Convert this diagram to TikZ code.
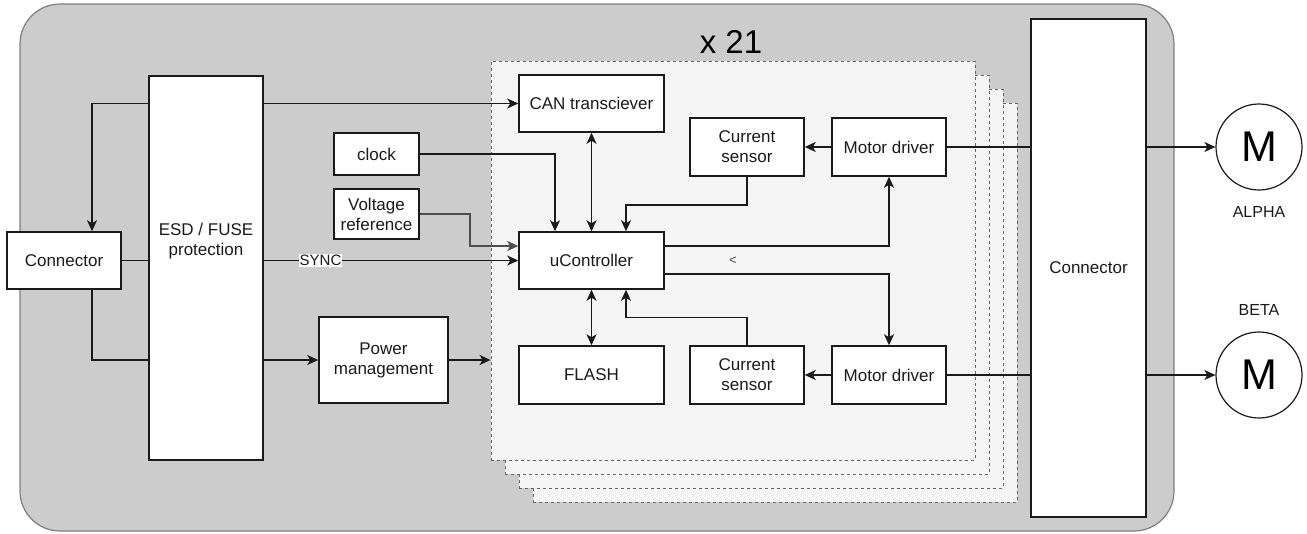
\documentclass[tikz,border=0pt]{standalone}
\usepackage{fontspec}
\setmainfont{Liberation Sans}
\usetikzlibrary{arrows.meta,calc}
\definecolor{bgfill}{HTML}{CCCCCC}
\definecolor{bgdraw}{HTML}{7F7F7F}
\definecolor{stackfill}{HTML}{F5F5F5}
\definecolor{stackdraw}{HTML}{666666}
\definecolor{ink}{HTML}{1A1A1A}
\definecolor{vrefline}{HTML}{4D4D4D}
\tikzset{
  tip/.tip={Stealth[length=11pt,width=10pt,inset=3pt]},
  box/.style={draw=ink, fill=white, line width=1.5pt, align=center, inner sep=2pt,
    text=ink, font=\fontsize{17}{20}\selectfont},
  stackbox/.style={draw=stackdraw, fill=stackfill, dashed, line width=0.9pt,
    minimum width=484pt, minimum height=399pt, inner sep=0pt},
  wire/.style={draw=ink, line width=1.5pt},
  arr/.style={wire, -tip},
  arrtwo/.style={wire, tip-tip},
  vref/.style={draw=vrefline, line width=2.2pt, -tip},
  synclbl/.style={fill=white, inner sep=1pt, text=ink, font=\fontsize{15}{18}\selectfont},
  motor/.style={circle, draw=ink, fill=white, line width=1.2pt, minimum size=86pt, inner sep=0pt,
    font=\fontsize{43}{43}\selectfont, text=black},
  plain/.style={text=ink, font=\fontsize{17}{20}\selectfont, inner sep=0pt}
}
\begin{document}
\begin{tikzpicture}[x=1pt,y=-1pt]
\useasboundingbox (0,0) rectangle (1307,533);
% background
\path[fill=bgfill, draw=bgdraw, line width=1.2pt, rounded corners=40pt] (20,4) rectangle (1174,531);
% stacked copies
\node[stackbox] (stackd) at (775,302.5) {};
\node[stackbox] (stackc) at (761,288.5) {};
\node[stackbox] (stackb) at (747,274.5) {};
\node[stackbox] (stacka) at (733,260.5) {};
\node[text=black, font=\fontsize{33}{33}\selectfont, inner sep=0pt] (times) at (731,42) {x 21};
% left part
\node[box, minimum width=114pt, minimum height=57pt] (conL) at (64,260.5) {Connector};
\node[box, minimum width=114pt, minimum height=384pt] (esd) at (206,268) {};
\node[plain, align=center] (esdtxt) at (206,241) {ESD / FUSE\\protection};
\node[box, minimum width=85pt, minimum height=42pt] (clk) at (376.5,154) {clock};
\node[box, minimum width=85pt, minimum height=50pt] (vr) at (376.5,214) {Voltage\\reference};
\node[box, minimum width=129pt, minimum height=86pt] (pm) at (383.5,360) {Power\\management};
% module
\node[box, minimum width=145pt, minimum height=57pt] (can) at (591.5,103.5) {CAN transciever};
\node[box, minimum width=145pt, minimum height=57pt] (uc) at (591.5,260.5) {uController};
\node[box, minimum width=145pt, minimum height=58pt] (flash) at (591.5,375) {FLASH};
\node[box, minimum width=114pt, minimum height=58pt] (csa) at (747,147) {Current\\sensor};
\node[box, minimum width=114pt, minimum height=58pt] (csb) at (747,375) {Current\\sensor};
\node[box, minimum width=114pt, minimum height=58pt] (mda) at (889,147) {Motor driver};
\node[box, minimum width=114pt, minimum height=58pt] (mdb) at (889,375) {Motor driver};
\node[text=ink!80, font=\fontsize{13}{13}\selectfont, inner sep=0pt] (lt) at (733,261) {<};
% right part
\node[box, minimum width=115pt, minimum height=498pt] (conR) at (1088.5,268) {Connector};
\node[motor] (ma) at (1259,147) {M};
\node[motor] (mb) at (1259,375) {M};
\node[plain, font=\fontsize{16}{19}\selectfont] (alpha) at (1259,212) {ALPHA};
\node[plain, font=\fontsize{16}{19}\selectfont] (beta) at (1259,310) {BETA};
% connectors left
\draw[arr] (esd.west |- can.west) -| ([xshift=28pt]conL.north);
\draw[wire] ([xshift=28pt]conL.south) |- (esd.west |- pm.west);
\draw[wire] (conL.east) -- (esd.west |- conL.east);
\draw[arr] (esd.east |- can.west) -- (can.west);
\draw[arr] (esd.east |- uc.west) -- node[synclbl, pos=0.223] (sync) {SYNC} (uc.west);
\draw[arr] (esd.east |- pm.west) -- (pm.west);
\draw[arr] (pm.east) -- (pm.east -| stacka.west);
\draw[arr] (clk.east) -| ([xshift=-36.5pt]uc.north);
\draw[vref] (vr.east) -- ++(50,0) |- ([yshift=14.5pt]uc.west);
% module connectors
\draw[arrtwo] (can.south) -- (uc.north);
\draw[arrtwo] (uc.south) -- (flash.north);
\draw[arr] (csa.south) -- ++(0,28) -| ([xshift=34.5pt]uc.north);
\draw[arr] (csb.north) -- ++(0,-28) -| ([xshift=34.5pt]uc.south);
\draw[arr] ([yshift=14.5pt]uc.east) -| (mda.south);
\draw[arr] ([yshift=-13.5pt]uc.east) -| (mdb.north);
\draw[arr] (mda.west) -- (csa.east);
\draw[arr] (mdb.west) -- (csb.east);
\draw[wire] (mda.east) -- (mda.east -| conR.west);
\draw[wire] (mdb.east) -- (mdb.east -| conR.west);
\draw[arr] (mda.east -| conR.east) -- (ma.west);
\draw[arr] (mdb.east -| conR.east) -- (mb.west);
\end{tikzpicture}
\end{document}
